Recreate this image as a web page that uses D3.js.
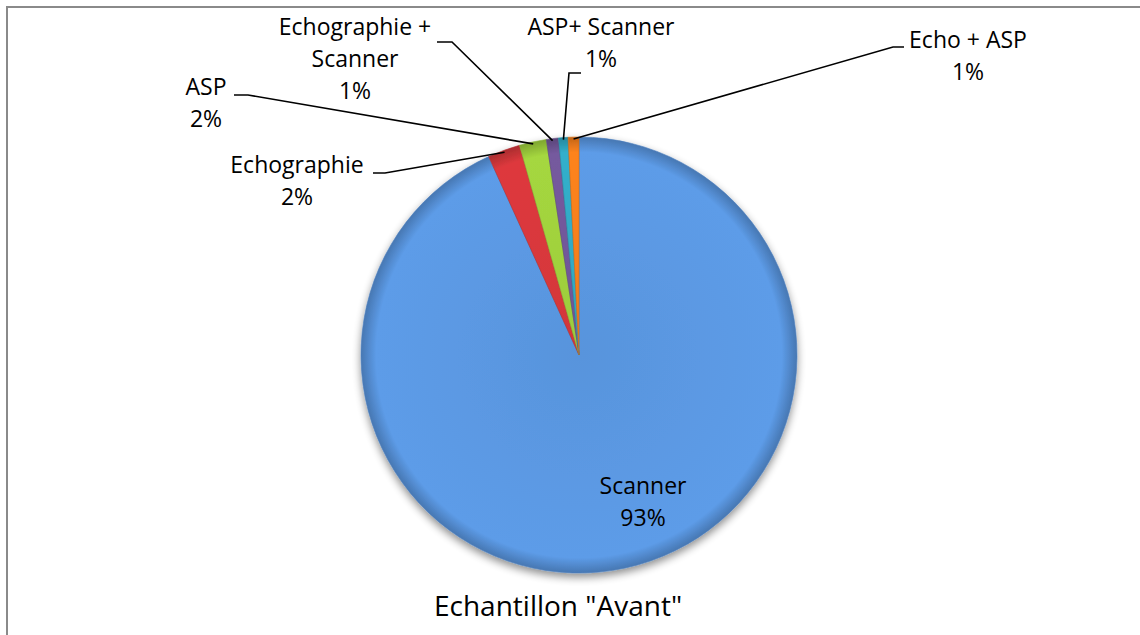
<!DOCTYPE html>
<html>
<head>
<meta charset="utf-8">
<script src="https://cdn.jsdelivr.net/npm/d3@7"></script>
<style>
  body { margin: 0; background: #fff; }
  text { font-family: "Open Sans", sans-serif; fill: #000; }
</style>
</head>
<body>
<div id="chart"></div>
<script>
// data
var categories = ["Scanner", "Echographie", "ASP", "Echographie + Scanner", "ASP+ Scanner", "Echo + ASP"];
var values = [93.2, 2.4, 2.0, 0.9, 0.7, 0.8];
var colors = ["#5894dc", "#d2363a", "#9ccc3c", "#6f5596", "#2fa6c0", "#f07c1c"];
var title = 'Echantillon "Avant"';

// label layout : text lines, centre x, first baseline, leader start / elbow
var labelLines = [
  ["Scanner"], ["Echographie"], ["ASP"], ["Echographie +", "Scanner"], ["ASP+ Scanner"], ["Echo + ASP"]
];
var labelPos = [
  {x: 643, y: 494, inside: true},
  {x: 297, y: 173, x0: 373, x1: 385, ly: 173},
  {x: 206, y: 95, x0: 234, x1: 248, ly: 95},
  {x: 355, y: 35, x0: 437, x1: 452, ly: 42},
  {x: 601, y: 35, x0: 581, x1: 569, ly: 73},
  {x: 968, y: 48, x0: 904, x1: 893, ly: 47}
];

var width = 1140, height = 635;
var cx = 579, cy = 355, radius = 218;
var lineH = 32;

var svg = d3.select("#chart")
  .append("svg")
    .attr("width", width)
    .attr("height", height);

// chart border (only top and left edges are visible)
svg.append("line")
    .attr("x1", 6).attr("y1", 7).attr("x2", width).attr("y2", 7)
    .style("stroke", "#8a8a8a").style("stroke-width", 2);
svg.append("line")
    .attr("x1", 7).attr("y1", 6).attr("x2", 7).attr("y2", height)
    .style("stroke", "#8a8a8a").style("stroke-width", 2);

var defs = svg.append("defs");

var shadow = defs.append("filter").attr("id", "shadow")
    .attr("x", "-20%").attr("y", "-20%").attr("width", "140%").attr("height", "140%");
shadow.append("feGaussianBlur").attr("in", "SourceAlpha").attr("stdDeviation", 4);
shadow.append("feOffset").attr("dx", 0).attr("dy", 4).attr("result", "blur");
shadow.append("feComponentTransfer").append("feFuncA").attr("type", "linear").attr("slope", 0.45);
var merge = shadow.append("feMerge");
merge.append("feMergeNode");
merge.append("feMergeNode").attr("in", "SourceGraphic");

// bevel look: flat colour with a darker rim
colors.forEach(function(c, i) {
  var g = defs.append("radialGradient")
      .attr("id", "grad" + i)
      .attr("gradientUnits", "userSpaceOnUse")
      .attr("cx", 0).attr("cy", 0).attr("r", radius);
  g.append("stop").attr("offset", "0%").attr("stop-color", c);
  g.append("stop").attr("offset", "93%").attr("stop-color", d3.color(c).brighter(0.15));
  g.append("stop").attr("offset", "100%").attr("stop-color", d3.color(c).darker(0.6));
});

var pie = d3.pie().sort(null).value(function(d) { return d; });
var arcs = pie(values);
var total = d3.sum(values);

var arc = d3.arc().innerRadius(0).outerRadius(radius);

var g = svg.append("g")
    .attr("transform", "translate(" + cx + "," + cy + ")");

g.append("g")
    .attr("filter", "url(#shadow)")
  .selectAll("path")
  .data(arcs)
  .enter().append("path")
    .attr("d", arc)
    .style("fill", function(d, i) { return "url(#grad" + i + ")"; })
    .style("stroke", function(d, i) { return d3.color(colors[i]).darker(0.4); })
    .style("stroke-width", 0.6);

// leader lines
arcs.forEach(function(d, i) {
  var p = labelPos[i];
  if (p.inside) return;
  var a = (d.startAngle + d.endAngle) / 2;
  var ex = cx + Math.sin(a) * (radius - 2);
  var ey = cy - Math.cos(a) * (radius - 2);
  svg.append("polyline")
      .attr("points", [[p.x0, p.ly], [p.x1, p.ly], [ex, ey]].map(function(q) { return q.join(","); }).join(" "))
      .style("fill", "none")
      .style("stroke", "#000")
      .style("stroke-width", 1.6);
});

// labels
arcs.forEach(function(d, i) {
  var p = labelPos[i];
  var lines = labelLines[i].concat([Math.round(d.value / total * 100) + "%"]);
  var t = svg.append("text")
      .attr("text-anchor", "middle")
      .attr("font-size", "23px");
  lines.forEach(function(s, k) {
    t.append("tspan")
      .attr("x", p.x)
      .attr("y", p.y + k * lineH)
      .text(s);
  });
});

svg.append("text")
    .attr("x", 558)
    .attr("y", 616)
    .attr("text-anchor", "middle")
    .attr("font-size", "28px")
    .text(title);
</script>
</body>
</html>
